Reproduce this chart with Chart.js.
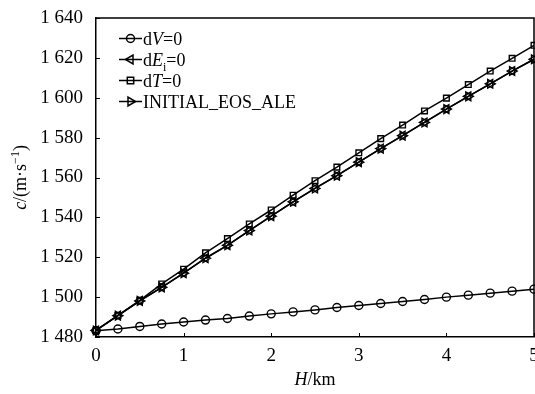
<!DOCTYPE html>
<html>
<head>
<meta charset="utf-8">
<script src="https://cdn.jsdelivr.net/npm/chart.js@4.4.1/dist/chart.umd.min.js"></script>
<style>
  html, body { margin: 0; padding: 0; background: #fff; }
  #wrap { width: 535px; height: 394px; }
</style>
</head>
<body>
<div id="wrap"><canvas id="c"></canvas></div>
<script>
// profundidade (km)
const hKm = [0, 0.25, 0.5, 0.75, 1, 1.25, 1.5, 1.75, 2, 2.25, 2.5, 2.75, 3, 3.25, 3.5, 3.75, 4, 4.25, 4.5, 4.75, 5];

// velocidade do som c (m/s) por série
const cdV = [1483.1, 1484.0, 1485.3, 1486.5, 1487.5, 1488.5, 1489.3, 1490.5, 1491.6, 1492.6, 1493.6,
             1494.8, 1495.8, 1496.8, 1497.8, 1498.8, 1500.0, 1501.0, 1502.0, 1503.0, 1504.0];
const cdE = [1483.3, 1490.7, 1498.1, 1504.9, 1512.0, 1519.5, 1526.0, 1533.4, 1540.6, 1547.8, 1554.5,
             1560.9, 1567.7, 1574.5, 1581.0, 1587.6, 1594.3, 1600.7, 1607.0, 1613.4, 1619.3];
const cdT = [1483.3, 1490.8, 1498.4, 1506.6, 1514.0, 1522.2, 1529.4, 1536.7, 1543.7, 1551.1, 1558.4,
             1565.2, 1572.4, 1579.5, 1586.3, 1593.4, 1599.8, 1606.6, 1613.4, 1619.8, 1626.3];
const cInit = [1483.3, 1490.7, 1498.1, 1504.9, 1512.0, 1519.5, 1526.0, 1533.4, 1540.6, 1547.8, 1554.5,
               1560.9, 1567.7, 1574.5, 1581.0, 1587.6, 1594.3, 1600.7, 1607.0, 1613.4, 1619.3];

const yTicks = [1480, 1500, 1520, 1540, 1560, 1580, 1600, 1620, 1640];
const xTicks = [0, 1, 2, 3, 4, 5];

// legenda (partes com itálico / subscrito)
const legendLabels = [
  [{ t: 'd' }, { t: 'V', it: 1 }, { t: '=0' }],
  [{ t: 'd' }, { t: 'E', it: 1 }, { t: 'i', sub: 1 }, { t: '=0' }],
  [{ t: 'd' }, { t: 'T', it: 1 }, { t: '=0' }],
  [{ t: 'INITIAL_EOS_ALE' }]
];
const yTitle = [{ t: 'c', it: 1 }, { t: '/(m·s' }, { t: '−1', sup: 1 }, { t: ')' }];
const xTitle = [{ t: 'H', it: 1 }, { t: '/km' }];

const SERIF = "'Liberation Serif', 'Times New Roman', serif";
const markers = [
  { style: 'circle', rot: 0, r: 4 },
  { style: 'triangle', rot: -90, r: 5 },
  { style: 'rect', rot: 0, r: 4 },
  { style: 'triangle', rot: 90, r: 5 }
];

function fmtThousands(v) {
  if (v < 1000) return String(v);
  return Math.floor(v / 1000) + ' ' + String(v % 1000).padStart(3, '0');
}

function _font(p, size) {
  const s = (p.sub || p.sup) ? Math.round(size * 0.65) : size;
  return (p.it ? 'italic ' : '') + s + 'px ' + SERIF;
}

function drawRich(ctx, parts, x, y, size, align) {
  let w = 0;
  parts.forEach(p => { ctx.font = _font(p, size); w += ctx.measureText(p.t).width; });
  let cx = align === 'center' ? x - w / 2 : x;
  ctx.textAlign = 'left';
  ctx.textBaseline = 'alphabetic';
  parts.forEach(p => {
    ctx.font = _font(p, size);
    const dy = p.sub ? size * 0.3 : (p.sup ? -size * 0.4 : 0);
    ctx.fillText(p.t, cx, y + dy);
    cx += ctx.measureText(p.t).width;
  });
}

function drawMarker(ctx, m, x, y) {
  const r = m.r;
  ctx.save();
  ctx.translate(x, y);
  ctx.rotate(m.rot * Math.PI / 180);
  ctx.beginPath();
  if (m.style === 'circle') {
    ctx.arc(0, 0, r, 0, Math.PI * 2);
  } else if (m.style === 'rect') {
    ctx.rect(-r * 0.8, -r * 0.8, r * 1.6, r * 1.6);
  } else {
    ctx.moveTo(0, -r);
    ctx.lineTo(r * 0.87, r * 0.5);
    ctx.lineTo(-r * 0.87, r * 0.5);
    ctx.closePath();
  }
  ctx.stroke();
  ctx.restore();
}

const framePlugin = {
  id: 'frame',
  afterDraw(chart) {
    const { ctx, chartArea: a, scales } = chart;
    ctx.save();
    ctx.strokeStyle = '#000';
    ctx.fillStyle = '#000';
    ctx.lineWidth = 1.5;
    // moldura superior e direita
    ctx.beginPath();
    ctx.moveTo(a.left, a.top);
    ctx.lineTo(a.right, a.top);
    ctx.lineTo(a.right, a.bottom);
    ctx.stroke();
    // ticks para dentro
    ctx.lineWidth = 1;
    ctx.beginPath();
    yTicks.forEach(v => {
      const py = Math.round(scales.y.getPixelForValue(v)) + 0.5;
      ctx.moveTo(a.left, py); ctx.lineTo(a.left + 4, py);
    });
    xTicks.forEach(v => {
      const px = Math.round(scales.x.getPixelForValue(v)) + 0.5;
      ctx.moveTo(px, a.bottom); ctx.lineTo(px, a.bottom - 4);
    });
    ctx.stroke();

    // títulos dos eixos
    drawRich(ctx, xTitle, (a.left + a.right) / 2, 385, 18, 'center');
    ctx.save();
    ctx.translate(26, (a.top + a.bottom) / 2);
    ctx.rotate(-Math.PI / 2);
    drawRich(ctx, yTitle, 0, 0, 18, 'center');
    ctx.restore();

    // legenda
    ctx.lineWidth = 1.5;
    legendLabels.forEach((parts, i) => {
      const ly = 38.5 + i * 21;
      ctx.beginPath();
      ctx.moveTo(119, ly); ctx.lineTo(142, ly);
      ctx.stroke();
      drawMarker(ctx, markers[i], 130.5, ly);
      drawRich(ctx, parts, 143, ly + 6, 18, 'left');
    });
    ctx.restore();
  }
};

function _ds(values, m) {
  return {
    data: hKm.map((h, i) => ({ x: h, y: values[i] })),
    borderColor: '#000',
    borderWidth: 1.5,
    pointStyle: m.style,
    pointRotation: m.rot,
    pointRadius: m.r,
    pointBorderWidth: 1.4,
    pointBorderColor: '#000',
    pointBackgroundColor: 'rgba(0,0,0,0)',
    tension: 0,
    clip: false
  };
}

new Chart(document.getElementById('c'), {
  type: 'line',
  data: {
    datasets: [
      _ds(cdV, markers[0]),
      _ds(cdE, markers[1]),
      _ds(cdT, markers[2]),
      _ds(cInit, markers[3])
    ]
  },
  options: {
    responsive: true,
    maintainAspectRatio: false,
    animation: false,
    events: [],
    layout: { autoPadding: false, padding: { top: 18, right: 1, left: 0, bottom: 0 } },
    plugins: { legend: { display: false }, tooltip: { enabled: false } },
    scales: {
      x: {
        type: 'linear',
        min: 0, max: 5,
        afterBuildTicks: s => { s.ticks = xTicks.map(v => ({ value: v })); },
        afterFit: s => { s.height = 57; s.paddingRight = 0; s.paddingLeft = 0; },
        ticks: { color: '#000', font: { family: SERIF, size: 19 }, padding: 8, maxRotation: 0 },
        grid: { display: true, drawOnChartArea: false, drawTicks: false },
        border: { color: '#000', width: 1.5 }
      },
      y: {
        min: 1480, max: 1640,
        afterBuildTicks: s => { s.ticks = yTicks.map(v => ({ value: v })); },
        afterFit: s => { s.width = 96; s.paddingTop = 0; s.paddingBottom = 0; },
        ticks: { color: '#000', font: { family: SERIF, size: 19 }, padding: 13, callback: v => fmtThousands(v) },
        grid: { display: true, drawOnChartArea: false, drawTicks: false },
        border: { color: '#000', width: 1.5 }
      }
    }
  },
  plugins: [framePlugin]
});
</script>
</body>
</html>
